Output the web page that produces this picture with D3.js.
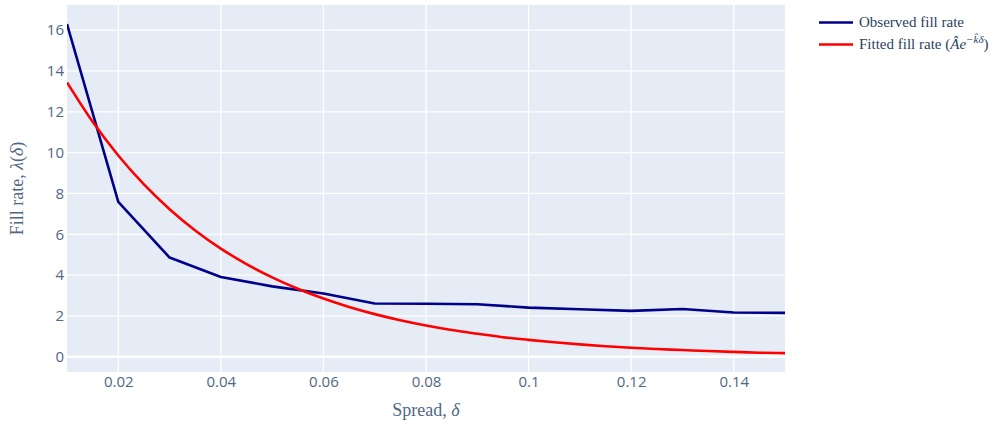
<!DOCTYPE html>
<html>
<head>
<meta charset="utf-8">
<script src="https://cdn.jsdelivr.net/npm/d3@7"></script>
<style>
  html, body { margin: 0; padding: 0; background: #fff; }
  svg { display: block; }
</style>
</head>
<body>
<svg id="chart" width="1003" height="429"></svg>
<script>
// ---- data ----
const spreadObserved = [0.01, 0.02, 0.03, 0.04, 0.05, 0.06, 0.07, 0.08, 0.09, 0.10, 0.11, 0.12, 0.13, 0.14, 0.15];
const fillObserved   = [16.30, 7.59, 4.86, 3.91, 3.45, 3.10, 2.61, 2.60, 2.57, 2.41, 2.33, 2.25, 2.34, 2.17, 2.15];

const spreadFitted = [0.010, 0.015, 0.020, 0.025, 0.030, 0.035, 0.040, 0.045, 0.050, 0.055,
                      0.060, 0.065, 0.070, 0.075, 0.080, 0.085, 0.090, 0.095, 0.100, 0.105,
                      0.110, 0.115, 0.120, 0.125, 0.130, 0.135, 0.140, 0.145, 0.150];
const fillFitted   = [13.44, 11.51, 9.86, 8.44, 7.23, 6.19, 5.30, 4.54, 3.89, 3.33,
                      2.85, 2.44, 2.09, 1.79, 1.53, 1.31, 1.13, 0.96, 0.83, 0.71,
                      0.61, 0.52, 0.44, 0.38, 0.33, 0.28, 0.24, 0.20, 0.18];

const xTicks = [0.02, 0.04, 0.06, 0.08, 0.10, 0.12, 0.14];
const xTickLabels = ["0.02", "0.04", "0.06", "0.08", "0.1", "0.12", "0.14"];
const yTicks = [0, 2, 4, 6, 8, 10, 12, 14, 16];

// ---- layout ----
const svg = d3.select("#chart");
const plot = { left: 67, right: 785, top: 5, bottom: 372 };

const x = d3.scaleLinear().domain([0.01, 0.15]).range([plot.left, plot.right]);
const y = d3.scaleLinear().domain([-0.745, 17.23]).range([plot.bottom, plot.top]);

svg.append("rect")
  .attr("x", plot.left).attr("y", plot.top)
  .attr("width", plot.right - plot.left).attr("height", plot.bottom - plot.top)
  .attr("fill", "#E5ECF6");

// grid
const grid = svg.append("g");
grid.selectAll("line.gx").data(xTicks).join("line")
  .attr("x1", d => x(d)).attr("x2", d => x(d))
  .attr("y1", plot.top).attr("y2", plot.bottom)
  .attr("stroke", "#fff").attr("stroke-width", 1.3);
grid.selectAll("line.gy").data(yTicks).join("line")
  .attr("y1", d => y(d)).attr("y2", d => y(d))
  .attr("x1", plot.left).attr("x2", plot.right)
  .attr("stroke", "#fff").attr("stroke-width", d => d === 0 ? 2.4 : 1.3);

// axes (no domain lines)
const xAxis = d3.axisBottom(x).tickValues(xTicks).tickSize(0).tickPadding(4)
  .tickFormat((d, i) => xTickLabels[i]);
const gx = svg.append("g").attr("transform", `translate(0,${plot.bottom})`).call(xAxis);
gx.select(".domain").remove();
gx.selectAll("text").attr("font-family", "'Open Sans', sans-serif").attr("font-size", 15)
  .attr("fill", "#506784").attr("dy", "0.71em");

const yAxis = d3.axisLeft(y).tickValues(yTicks).tickSize(0).tickPadding(3);
const gy = svg.append("g").attr("transform", `translate(${plot.left},0)`).call(yAxis);
gy.select(".domain").remove();
gy.selectAll("text").attr("font-family", "'Open Sans', sans-serif").attr("font-size", 15)
  .attr("fill", "#506784");

// clip
svg.append("clipPath").attr("id", "clip").append("rect")
  .attr("x", plot.left).attr("y", plot.top)
  .attr("width", plot.right - plot.left).attr("height", plot.bottom - plot.top);

const lineObs = d3.line().x((d, i) => x(spreadObserved[i])).y(d => y(d));
const lineFit = d3.line().x((d, i) => x(spreadFitted[i])).y(d => y(d)).curve(d3.curveMonotoneX);

const lines = svg.append("g").attr("clip-path", "url(#clip)");
lines.append("path").datum(fillObserved).attr("d", lineObs)
  .attr("fill", "none").attr("stroke", "#00008B").attr("stroke-width", 2.6)
  .attr("stroke-linejoin", "round");
lines.append("path").datum(fillFitted).attr("d", lineFit)
  .attr("fill", "none").attr("stroke", "#FF0000").attr("stroke-width", 2.6)
  .attr("stroke-linejoin", "round");

// axis titles
const serif = "'Liberation Serif', 'Times New Roman', serif";
const xt = svg.append("text").attr("x", (plot.left + plot.right) / 2).attr("y", 416)
  .attr("text-anchor", "middle").attr("font-family", serif).attr("font-size", 18).attr("fill", "#506784");
xt.append("tspan").text("Spread, ");
xt.append("tspan").attr("font-style", "italic").text("δ");

const yt = svg.append("text").attr("transform", `translate(23,${(plot.top + plot.bottom) / 2}) rotate(-90)`)
  .attr("text-anchor", "middle").attr("font-family", serif).attr("font-size", 18).attr("fill", "#506784");
yt.append("tspan").text("Fill rate, ");
yt.append("tspan").attr("font-style", "italic").text("λ");
yt.append("tspan").text("(");
yt.append("tspan").attr("font-style", "italic").text("δ");
yt.append("tspan").text(")");

// legend
const legend = svg.append("g");
const legendItems = [
  { color: "#00008B", y: 22.5 },
  { color: "#FF0000", y: 44.5 }
];
legend.selectAll("line").data(legendItems).join("line")
  .attr("x1", 819).attr("x2", 853).attr("y1", d => d.y).attr("y2", d => d.y)
  .attr("stroke", d => d.color).attr("stroke-width", 2.6);

legend.append("text").attr("x", 859).attr("y", 22.5).attr("dy", "0.33em")
  .attr("font-family", serif).attr("font-size", 15).attr("fill", "#2a3f5f")
  .text("Observed fill rate");

const lt = legend.append("text").attr("x", 859).attr("y", 44.5).attr("dy", "0.33em")
  .attr("font-family", serif).attr("font-size", 15).attr("fill", "#2a3f5f");
lt.append("tspan").text("Fitted fill rate (");
lt.append("tspan").attr("font-style", "italic").text("Â");
lt.append("tspan").attr("font-style", "italic").text("e");
lt.append("tspan").attr("font-style", "italic").attr("font-size", 11).attr("dy", -6).text("−k̂δ");
lt.append("tspan").attr("dy", 6).text(")");
</script>
</body>
</html>
